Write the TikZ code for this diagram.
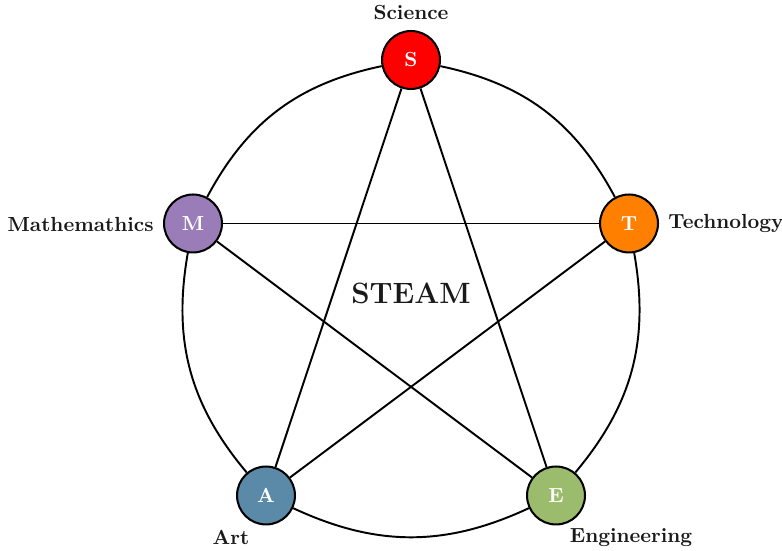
\documentclass[tikz,border=0pt]{standalone}
\usepackage{xcolor}
\definecolor{scol}{HTML}{FF0000}
\definecolor{tcol}{HTML}{FF8000}
\definecolor{ecol}{HTML}{9BBB6D}
\definecolor{acol}{HTML}{5B89A8}
\definecolor{mcol}{HTML}{9A7DB8}
\begin{document}
\begin{tikzpicture}[x=0.49pt,y=0.49pt,
  disc/.style={circle,draw=black,line width=1pt,minimum size=28.4pt,inner sep=0pt,
    text=white,font=\bfseries},
  lbl/.style={font=\bfseries,text=black!90,inner sep=0pt},
  link/.style={line width=0.95pt,black}]
\useasboundingbox (0,0) rectangle (782,551);

% the five disciplines
\node[disc,fill=scol] (S) at (411,491) {S};
\node[disc,fill=tcol] (T) at (629,327.5) {T};
\node[disc,fill=ecol] (E) at (556,55.5) {E};
\node[disc,fill=acol] (A) at (266,55.5) {A};
\node[disc,fill=mcol] (M) at (193,327.5) {M};

% outer ring
\draw[link] (S) to[bend left=25] (T);
\draw[link] (T) to[bend left=25] (E);
\draw[link] (E) to[bend left=25] (A);
\draw[link] (A) to[bend left=25] (M);
\draw[link] (M) to[bend left=25] (S);

% inner star
\draw[link] (S) -- (A);
\draw[link] (S) -- (E);
\draw[link] (M) -- (T);
\draw[link] (M) -- (E);
\draw[link] (T) -- (A);

% labels
\node[lbl,font=\Large\bfseries] (steam) at (411,258) {STEAM};
\node[lbl] (ls) at (411,538) {Science};
\node[lbl,anchor=west] (lt) at (668,328) {Technology};
\node[lbl,anchor=east] (lm) at (154,327) {Mathemathics};
\node[lbl] (la) at (231,14) {Art};
\node[lbl] (le) at (631,13) {Engineering};
\end{tikzpicture}
\end{document}
